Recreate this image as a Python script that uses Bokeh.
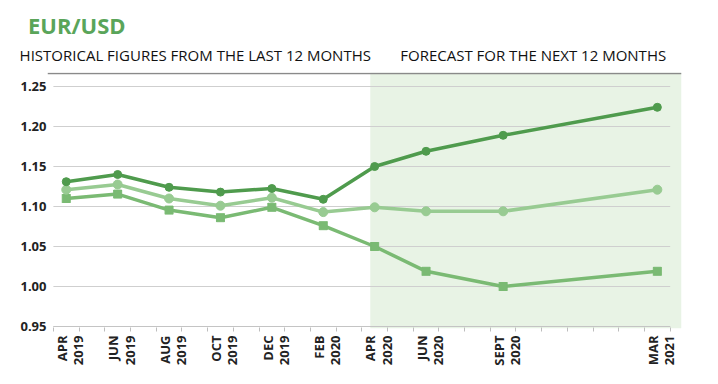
from bokeh.plotting import figure
from bokeh.models import (FixedTicker, Range1d, BoxAnnotation, Span, LinearAxis)
from bokeh.embed import file_html
from bokeh.resources import INLINE
import math

# ---- data ----
months = [0, 2, 4, 6, 8, 10, 12, 14, 17, 23]
tick_labels = ["APR\n2019", "JUN\n2019", "AUG\n2019", "OCT\n2019", "DEC\n2019",
               "FEB\n2020", "APR\n2020", "JUN\n2020", "SEPT\n2020", "MAR\n2021"]
high = [1.131, 1.140, 1.124, 1.118, 1.1225, 1.109, 1.150, 1.169, 1.189, 1.224]
mid = [1.121, 1.1275, 1.110, 1.101, 1.111, 1.093, 1.099, 1.094, 1.094, 1.121]
low = [1.110, 1.1155, 1.0955, 1.086, 1.099, 1.076, 1.050, 1.019, 1.000, 1.019]
y_ticks = [0.95, 1.00, 1.05, 1.10, 1.15, 1.20, 1.25]
forecast_start = 11.83
title_text = "EUR/USD"
section_titles = ["HISTORICAL FIGURES FROM THE LAST 12 MONTHS", "FORECAST FOR THE NEXT 12 MONTHS"]

C_HIGH = "#4f9b4d"
C_MID = "#98cb92"
C_LOW = "#7aba73"
C_SHADE = "#e8f3e5"
C_TITLE = "#5aa55a"
FONT = "Open Sans"

p = figure(frame_width=634, frame_height=256, min_border_left=47, min_border_right=29,
           min_border_top=72, min_border_bottom=48,
           x_range=Range1d(-0.73, 23.94), y_range=Range1d(0.9475, 1.2675),
           output_backend="svg", toolbar_location=None, background_fill_color="white",
           border_fill_color="white")
p.outline_line_color = None
p.xgrid.visible = False
p.ygrid.visible = False

# forecast shading
p.add_layout(BoxAnnotation(left=forecast_start, fill_color=C_SHADE, fill_alpha=1.0,
                           line_color=None, level="underlay"))

# gridlines (custom extent)
x0, x1 = -0.5, 23.5
p.segment(x0=[x0] * len(y_ticks), x1=[x1] * len(y_ticks), y0=y_ticks, y1=y_ticks,
          line_color="#cfcfcf", line_width=1)
# top rule
p.add_layout(Span(location=1.2662, dimension="width", line_color="#8a8a8a", line_width=1.5))

# series
for vals, col, marker, size in [(low, C_LOW, "square_x", 8),
                                (mid, C_MID, "circle", 9),
                                (high, C_HIGH, "circle", 8)]:
    p.line(months, vals, line_color=col, line_width=3.5)
    p.scatter(months, vals, marker=marker, size=size, fill_color=col, line_color=col,
              line_width=1)

# bottom axis
label_pos = [m + 0.15 for m in months]
p.xaxis.ticker = FixedTicker(ticks=label_pos, minor_ticks=[m - 0.5 for m in range(25)])
p.xaxis.major_label_overrides = {m: t for m, t in zip(label_pos, tick_labels)}
p.xaxis.major_label_orientation = math.pi / 2
p.xaxis.major_tick_line_color = None
p.xaxis.major_tick_out = 4
p.xaxis.minor_tick_line_color = "#bdbdbd"
p.xaxis.minor_tick_in = 1
p.xaxis.minor_tick_out = 3
p.xaxis.axis_line_color = None
p.xaxis.major_label_text_font = FONT
p.xaxis.major_label_text_font_style = "bold"
p.xaxis.major_label_text_font_size = "13px"
p.xaxis.major_label_text_line_height = 0.9
p.xaxis.major_label_text_color = "#222222"
p.xaxis.major_label_standoff = 3
p.segment(x0=[x0], x1=[x1], y0=[0.95], y1=[0.95], line_color="#c4c4c4", line_width=1)

# left axis
p.yaxis.ticker = FixedTicker(ticks=y_ticks)
p.yaxis.major_label_overrides = {v: f"{v:.2f}" for v in y_ticks}
p.yaxis.axis_line_color = None
p.yaxis.major_tick_line_color = None
p.yaxis.major_tick_out = 0
p.yaxis.major_tick_in = 0
p.yaxis.minor_tick_line_color = None
p.yaxis.minor_tick_out = 0
p.yaxis.minor_tick_in = 0
p.yaxis.major_label_text_font = FONT
p.yaxis.major_label_text_font_style = "bold"
p.yaxis.major_label_text_font_size = "13px"
p.yaxis.major_label_text_color = "#222222"
p.yaxis.major_label_standoff = 1

# headings as label-only axes above the frame
def text_axis(positions, texts, size, color, style, standoff):
    ax = LinearAxis(ticker=FixedTicker(ticks=positions, minor_ticks=[]),
                    major_label_overrides={k: t for k, t in zip(positions, texts)},
                    axis_line_color=None, major_tick_line_color=None,
                    minor_tick_line_color=None, major_tick_out=0, major_tick_in=0,
                    minor_tick_out=0, minor_tick_in=0, major_label_text_font=FONT,
                    major_label_text_font_size=size, major_label_text_color=color,
                    major_label_text_font_style=style, major_label_standoff=standoff)
    return ax

p.add_layout(text_axis([5.02, 18.17], section_titles, "15px", "#111111", "normal", 8), "above")
p.add_layout(text_axis([0.41], [title_text], "22px", C_TITLE, "bold", 2), "above")

open("out.html", "w").write(file_html(p, INLINE))
